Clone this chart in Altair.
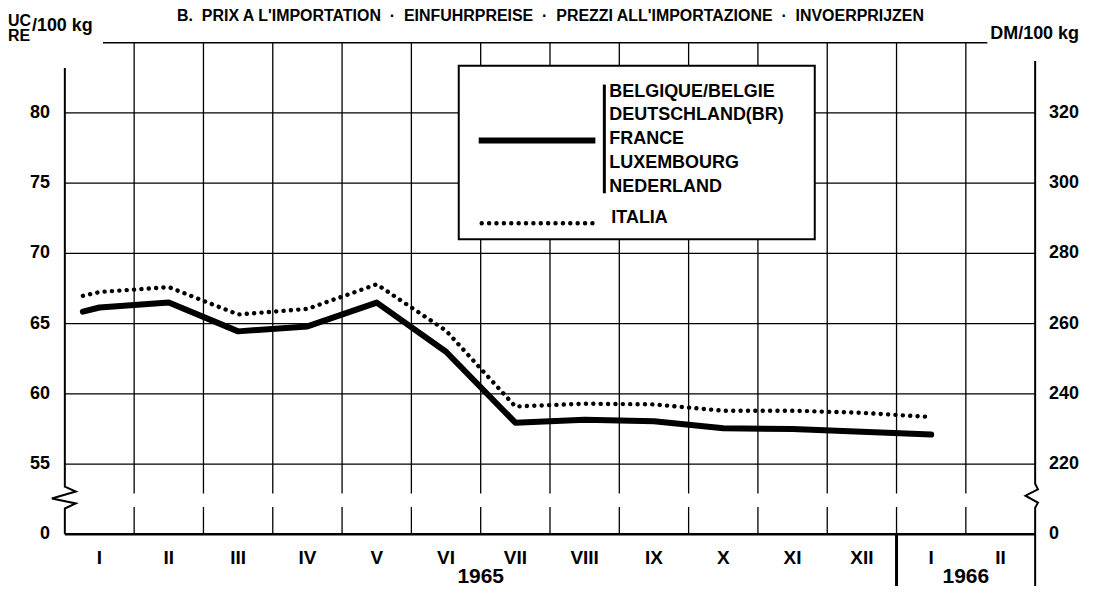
import altair as alt
import pandas as pd

FONT = "Liberation Sans"

# ---- data ----
x_pos = [0.76, 1, 2, 3, 4, 5, 6, 7, 8, 9, 10, 11, 12, 13]
eec_values = [65.85, 66.15, 66.5, 64.45, 64.8, 66.5, 63.0, 57.95, 58.15, 58.05, 57.55, 57.5, 57.3, 57.1]
italia_values = [66.98, 67.25, 67.6, 65.65, 66.05, 67.8, 64.5, 59.1, 59.3, 59.25, 58.8, 58.8, 58.65, 58.35]

month_labels = ["I", "II", "III", "IV", "V", "VI", "VII", "VIII", "IX", "X", "XI", "XII", "I", "II"]
month_centres = list(range(1, 15))
year_labels = ["1965", "1966"]
year_centres = [6.5, 13.5]

left_ticks = [50, 55, 60, 65, 70, 75, 80]
left_tick_labels = ["0", "55", "60", "65", "70", "75", "80"]
right_tick_labels = ["0", "220", "240", "260", "280", "300", "320"]
grid_values = [55, 60, 65, 70, 75, 80]
month_bounds = [1.5, 2.5, 3.5, 4.5, 5.5, 6.5, 7.5, 8.5, 9.5, 10.5, 11.5, 12.5, 13.5]

# axis-break glyphs (offsets in month units / value units)
left_axis_x = [0.5, 0.5, 0.658, 0.313, 0.658, 0.5, 0.5]
left_axis_y = [83.2, 53.4, 53.05, 52.55, 52.2, 51.84, 50.0]
right_axis_x = [14.5, 14.5, 14.54, 14.36, 14.54, 14.5, 14.5]
right_axis_y = [83.7, 53.6, 53.2, 52.75, 52.25, 51.9, 45.6]

legend_group = "BELGIQUE/BELGIE\nDEUTSCHLAND(BR)\nFRANCE\nLUXEMBOURG\nNEDERLAND"
legend_italia = "ITALIA"
title_text = ("B.\u00a0\u00a0PRIX A L'IMPORTATION\u00a0\u00a0·\u00a0\u00a0EINFUHRPREISE\u00a0\u00a0·\u00a0\u00a0"
              "PREZZI ALL'IMPORTAZIONE\u00a0\u00a0·\u00a0\u00a0INVOERPRIJZEN")

W, H = 973, 493
xs = alt.Scale(domain=[0.5, 14.5], nice=False, zero=False)
ys = alt.Scale(domain=[50, 85], nice=False, zero=False)

def X(f):
    return alt.X(f, type="quantitative", scale=xs, axis=None)

def Y(f):
    return alt.Y(f, type="quantitative", scale=ys, axis=None)

dummy = pd.DataFrame({"a": [0]})

series = pd.DataFrame({"x": x_pos, "eec": eec_values, "ita": italia_values})

# grid
vgrid = pd.DataFrame({
    "x": month_bounds * 2,
    "y1": [50.0] * len(month_bounds) + [52.9] * len(month_bounds),
    "y2": [51.95] * len(month_bounds) + [85.0] * len(month_bounds),
})
vgrid_layer = alt.Chart(vgrid).mark_rule(color="black", strokeWidth=1.3).encode(
    x=X("x"), y=Y("y1"), y2="y2")

hgrid = pd.DataFrame({"y": grid_values, "x1": [0.5] * len(grid_values), "x2": [14.5] * len(grid_values)})
hgrid_layer = alt.Chart(hgrid).mark_rule(color="black", strokeWidth=1.3).encode(
    y=Y("y"), x=X("x1"), x2="x2")

top_line = alt.Chart(pd.DataFrame({"y": [85], "x1": [1.05], "x2": [13.81]})).mark_rule(
    color="black", strokeWidth=1.5).encode(y=Y("y"), x=X("x1"), x2="x2")

bottom_axis = alt.Chart(pd.DataFrame({"y": [50], "x1": [0.5], "x2": [14.5]})).mark_rule(
    color="black", strokeWidth=2.5).encode(y=Y("y"), x=X("x1"), x2="x2")

separator = alt.Chart(pd.DataFrame({"x": [12.5], "y1": [50], "y2": [45.6]})).mark_rule(
    color="black", strokeWidth=3).encode(x=X("x"), y=Y("y1"), y2="y2")

axes_df = pd.DataFrame({
    "x": left_axis_x + right_axis_x,
    "y": left_axis_y + right_axis_y,
    "seg": ["L"] * len(left_axis_x) + ["R"] * len(right_axis_x),
    "o": list(range(len(left_axis_x))) + list(range(len(right_axis_x))),
})
axis_lines = alt.Chart(axes_df).mark_line(color="black", strokeWidth=2, strokeJoin="miter").encode(
    x=X("x"), y=Y("y"), detail="seg:N", order="o:Q")

# data lines
eec_line = alt.Chart(series).mark_line(color="black", strokeWidth=6, strokeCap="round",
                                       strokeJoin="round").encode(x=X("x"), y=Y("eec"))
ita_line = alt.Chart(series).mark_line(color="black", strokeWidth=4.4, strokeCap="round",
                                       strokeDash=[0.1, 7.3]).encode(x=X("x"), y=Y("ita"))

# axis labels
ltick = pd.DataFrame({"y": left_ticks, "l": left_tick_labels, "r": right_tick_labels})
left_lab = alt.Chart(ltick).mark_text(font=FONT, fontSize=18, fontWeight="bold", align="right",
                                      baseline="middle", color="black").encode(
    y=Y("y"), x=alt.value(-15), text="l:N")
right_lab = alt.Chart(ltick).mark_text(font=FONT, fontSize=18, fontWeight="bold", align="left",
                                       baseline="middle", color="black").encode(
    y=Y("y"), x=alt.value(987), text="r:N")

mdf = pd.DataFrame({"x": month_centres, "t": month_labels})
month_lab = alt.Chart(mdf).mark_text(font=FONT, fontSize=19, fontWeight="bold", baseline="middle",
                                     color="black").encode(x=X("x"), y=alt.value(517), text="t:N")
ydf = pd.DataFrame({"x": year_centres, "t": year_labels})
year_lab = alt.Chart(ydf).mark_text(font=FONT, fontSize=21, fontWeight="bold", baseline="middle",
                                    color="black").encode(x=X("x"), y=alt.value(536), text="t:N")

def ann(text, x, y, size, align="left", weight="bold", baseline="middle", **kw):
    return alt.Chart(dummy).mark_text(text=text, font=FONT, fontSize=size, fontWeight=weight,
                                      align=align, baseline=baseline, color="black", **kw).encode(
        x=alt.value(x), y=alt.value(y))

title = ann(title_text, 487, -27, 16, align="center")
uc = ann("UC", -57, -22, 16)
re_ = ann("RE", -57, -7, 16)
unit_l = ann("/100 kg", -33, -17, 18)
unit_r = ann("DM/100 kg", 928, -9, 18)

# legend
legend_box = alt.Chart(dummy).mark_rect(fill="white", stroke="black", strokeWidth=2).encode(
    x=alt.value(395), x2=alt.value(752), y=alt.value(23), y2=alt.value(197))
leg_solid = alt.Chart(dummy).mark_rule(color="black", strokeWidth=6).encode(
    x=alt.value(415), x2=alt.value(532), y=alt.value(98))
leg_dot = alt.Chart(dummy).mark_rule(color="black", strokeWidth=4.4, strokeCap="round",
                                     strokeDash=[0.1, 7.3]).encode(
    x=alt.value(418), x2=alt.value(530), y=alt.value(181))
leg_bar = alt.Chart(dummy).mark_rule(color="black", strokeWidth=3).encode(
    x=alt.value(541), y=alt.value(42), y2=alt.value(151))
leg_text = ann(legend_group, 546, 49, 18, lineBreak="\n", lineHeight=24)
leg_ita = ann(legend_italia, 548, 176, 18)

chart = alt.layer(
    vgrid_layer, hgrid_layer, top_line, bottom_axis, separator, axis_lines,
    ita_line, eec_line,
    left_lab, right_lab, month_lab, year_lab,
    title, uc, re_, unit_l, unit_r,
    legend_box, leg_solid, leg_dot, leg_bar, leg_text, leg_ita,
).properties(
    width=W, height=H,
    padding={"left": 57, "top": 34, "right": 55, "bottom": 51},
    autosize=alt.AutoSizeParams(type="none"),
    background="white",
).configure_view(stroke=None)

chart.save("out.html", embed_options={"renderer": "svg", "actions": False})
